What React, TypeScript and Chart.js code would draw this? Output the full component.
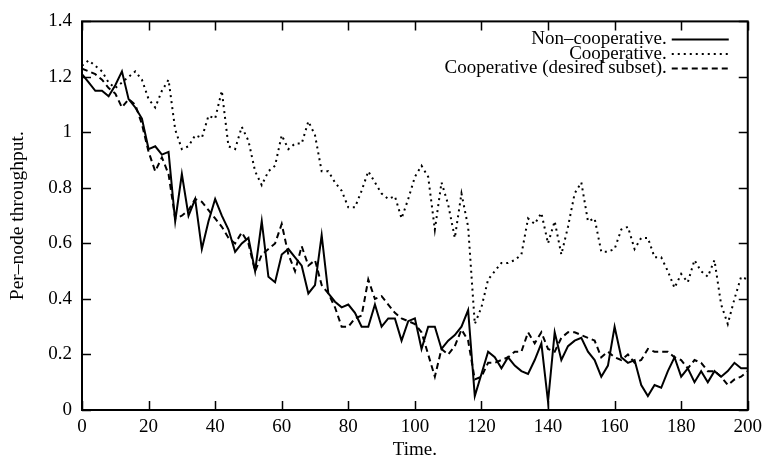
import { useEffect, useRef } from "react";
import { Chart, registerables } from "chart.js";

Chart.register(...registerables);

const TIME = [
  0, 2, 4, 6, 8, 10, 12, 14, 16, 18, 20, 22, 24, 26, 28, 30, 32, 34, 36, 38,
  40, 42, 44, 46, 48, 50, 52, 54, 56, 58, 60, 62, 64, 66, 68, 70, 72, 74, 76, 78,
  80, 82, 84, 86, 88, 90, 92, 94, 96, 98, 100, 102, 104, 106, 108, 110, 112, 114, 116, 118,
  120, 122, 124, 126, 128, 130, 132, 134, 136, 138, 140, 142, 144, 146, 148, 150, 152, 154, 156, 158,
  160, 162, 164, 166, 168, 170, 172, 174, 176, 178, 180, 182, 184, 186, 188, 190, 192, 194, 196, 198, 200,
];

const NON_COOP = [
  1.21, 1.18, 1.15, 1.15, 1.13, 1.17, 1.22, 1.12, 1.09, 1.05,
  0.94, 0.95, 0.92, 0.93, 0.68, 0.85, 0.70, 0.76, 0.58, 0.68,
  0.76, 0.70, 0.65, 0.57, 0.60, 0.62, 0.50, 0.68, 0.48, 0.46,
  0.56, 0.58, 0.55, 0.52, 0.42, 0.45, 0.63, 0.42, 0.39, 0.37,
  0.38, 0.35, 0.30, 0.30, 0.38, 0.30, 0.33, 0.33, 0.25, 0.32,
  0.33, 0.22, 0.30, 0.30, 0.22, 0.25, 0.27, 0.30, 0.36, 0.05,
  0.13, 0.21, 0.19, 0.15, 0.19, 0.16, 0.14, 0.13, 0.18, 0.24,
  0.03, 0.28, 0.18, 0.23, 0.25, 0.26, 0.21, 0.18, 0.12, 0.16,
  0.30, 0.19, 0.17, 0.18, 0.09, 0.05, 0.09, 0.08, 0.14, 0.19,
  0.12, 0.15, 0.10, 0.14, 0.10, 0.14, 0.12, 0.14, 0.17, 0.15, 0.15,
];

const COOP = [
  1.24, 1.26, 1.24, 1.22, 1.18, 1.16, 1.18, 1.20, 1.22, 1.19,
  1.12, 1.09, 1.15, 1.19, 1.01, 0.94, 0.95, 0.99, 0.98, 1.06,
  1.05, 1.15, 0.95, 0.94, 1.02, 0.97, 0.86, 0.81, 0.86, 0.88,
  0.99, 0.94, 0.96, 0.96, 1.04, 0.99, 0.86, 0.86, 0.82, 0.79,
  0.73, 0.73, 0.79, 0.86, 0.82, 0.78, 0.76, 0.77, 0.69, 0.76,
  0.84, 0.88, 0.84, 0.65, 0.82, 0.74, 0.62, 0.78, 0.66, 0.31,
  0.37, 0.47, 0.50, 0.53, 0.53, 0.54, 0.56, 0.69, 0.67, 0.71,
  0.60, 0.68, 0.56, 0.66, 0.78, 0.82, 0.68, 0.69, 0.57, 0.57,
  0.58, 0.65, 0.66, 0.58, 0.62, 0.62, 0.55, 0.55, 0.50, 0.44,
  0.49, 0.46, 0.54, 0.50, 0.48, 0.54, 0.38, 0.31, 0.40, 0.48, 0.47,
];

const COOP_SUBSET = [
  1.23, 1.22, 1.21, 1.19, 1.16, 1.14, 1.09, 1.12, 1.10, 1.03,
  0.93, 0.86, 0.91, 0.85, 0.69, 0.70, 0.72, 0.76, 0.75, 0.72,
  0.69, 0.66, 0.62, 0.60, 0.64, 0.60, 0.50, 0.56, 0.58, 0.60,
  0.67, 0.56, 0.50, 0.59, 0.52, 0.54, 0.45, 0.42, 0.37, 0.30,
  0.30, 0.33, 0.34, 0.47, 0.40, 0.41, 0.38, 0.35, 0.33, 0.32,
  0.31, 0.28, 0.20, 0.12, 0.22, 0.20, 0.23, 0.29, 0.25, 0.11,
  0.12, 0.17, 0.17, 0.18, 0.19, 0.21, 0.21, 0.28, 0.24, 0.28,
  0.22, 0.21, 0.26, 0.28, 0.28, 0.27, 0.26, 0.25, 0.19, 0.21,
  0.19, 0.18, 0.20, 0.17, 0.18, 0.22, 0.21, 0.21, 0.21, 0.19,
  0.18, 0.15, 0.18, 0.17, 0.14, 0.14, 0.12, 0.09, 0.11, 0.12, 0.14,
];

const SERIES_LABELS = ["Non\u2013cooperative.", "Cooperative.", "Cooperative (desired subset)."];
const X_TICKS = [0, 20, 40, 60, 80, 100, 120, 140, 160, 180, 200];
const Y_TICKS = [0, 0.2, 0.4, 0.6, 0.8, 1, 1.2, 1.4];
const X_TITLE = "Time.";
const Y_TITLE = "Per\u2013node throughput.";

const FONT = "Liberation Serif";

const framePlugin = {
  id: "gnuplotFrame",
  afterDatasetsDraw(chart: any) {
    const { ctx, chartArea, scales } = chart;
    const { left, right, top, bottom } = chartArea;
    const xs = scales.x;
    const ys = scales.y;
    ctx.save();
    ctx.strokeStyle = "#000";
    ctx.lineWidth = 2;
    ctx.strokeRect(left, top, right - left, bottom - top);
    ctx.lineWidth = 1.5;
    ctx.beginPath();
    const tl = 9;
    X_TICKS.forEach((v) => {
      const px = Math.round(xs.getPixelForValue(v)) + 0.5;
      ctx.moveTo(px, bottom);
      ctx.lineTo(px, bottom - tl);
      ctx.moveTo(px, top);
      ctx.lineTo(px, top + tl);
    });
    Y_TICKS.forEach((v) => {
      const py = Math.round(ys.getPixelForValue(v)) + 0.5;
      ctx.moveTo(left, py);
      ctx.lineTo(left + tl, py);
      ctx.moveTo(right, py);
      ctx.lineTo(right - tl, py);
    });
    ctx.stroke();

    // key in the top-right corner: text right-aligned, line sample at its right
    ctx.font = `19px "${FONT}"`;
    ctx.fillStyle = "#000";
    ctx.textAlign = "right";
    ctx.textBaseline = "middle";
    const textRight = right - 81;
    const sampleL = right - 76;
    const sampleR = right - 19;
    chart.data.datasets.forEach((ds: any, i: number) => {
      const yy = top + 18 + i * 14.5;
      ctx.fillText(ds.label, textRight, yy);
      ctx.save();
      ctx.lineWidth = ds.borderWidth;
      ctx.setLineDash(ds.borderDash || []);
      ctx.beginPath();
      ctx.moveTo(sampleL, yy);
      ctx.lineTo(sampleR, yy);
      ctx.stroke();
      ctx.restore();
    });
    ctx.restore();
  },
};

export default function App() {
  const canvasRef = useRef<HTMLCanvasElement | null>(null);

  useEffect(() => {
    document.body.style.margin = "0";
    const canvas = canvasRef.current;
    if (!canvas) return;
    const mk = (vals: number[]) => TIME.map((t, i) => ({ x: t, y: vals[i] }));
    const chart = new Chart(canvas, {
      type: "line",
      data: {
        datasets: [
          {
            label: SERIES_LABELS[0],
            data: mk(NON_COOP),
            borderColor: "#000",
            borderWidth: 2,
            pointRadius: 0,
            tension: 0,
          },
          {
            label: SERIES_LABELS[1],
            data: mk(COOP),
            borderColor: "#000",
            borderWidth: 2,
            borderDash: [2, 4],
            pointRadius: 0,
            tension: 0,
          },
          {
            label: SERIES_LABELS[2],
            data: mk(COOP_SUBSET),
            borderColor: "#000",
            borderWidth: 2,
            borderDash: [6, 4],
            pointRadius: 0,
            tension: 0,
          },
        ],
      },
      options: {
        animation: false,
        responsive: false,
        maintainAspectRatio: false,
        layout: { padding: { left: 0, top: 13, right: 19, bottom: 0 } },
        plugins: {
          legend: { display: false },
          tooltip: { enabled: false },
        },
        scales: {
          x: {
            type: "linear",
            min: 0,
            max: 200,
            afterBuildTicks: (s: any) => {
              s.ticks = X_TICKS.map((v) => ({ value: v }));
            },
            afterFit: (s: any) => {
              s.height = 48;
            },
            grid: { display: false, drawTicks: false },
            border: { display: false },
            ticks: {
              color: "#000",
              font: { family: FONT, size: 19 },
              padding: 6,
              maxRotation: 0,
              autoSkip: false,
              callback: (v: any) => String(v),
            },
            title: {
              display: true,
              text: X_TITLE,
              color: "#000",
              font: { family: FONT, size: 19 },
              padding: { top: 0, bottom: -3 },
            },
          },
          y: {
            type: "linear",
            min: 0,
            max: 1.4,
            afterBuildTicks: (s: any) => {
              s.ticks = Y_TICKS.map((v) => ({ value: v }));
            },
            afterFit: (s: any) => {
              s.width = 82;
            },
            grid: { display: false, drawTicks: false },
            border: { display: false },
            ticks: {
              color: "#000",
              font: { family: FONT, size: 19 },
              padding: 10,
              autoSkip: false,
              callback: (v: any) => String(Math.round(Number(v) * 10) / 10),
            },
            title: {
              display: true,
              text: Y_TITLE,
              color: "#000",
              font: { family: FONT, size: 19.5 },
              padding: { top: 6, bottom: 0 },
            },
          },
        },
      },
      plugins: [framePlugin],
    });
    return () => chart.destroy();
  }, []);

  return (
    <div style={{ width: 768, height: 458 }}>
      <canvas ref={canvasRef} width={768} height={458} style={{ display: "block" }} />
    </div>
  );
}
